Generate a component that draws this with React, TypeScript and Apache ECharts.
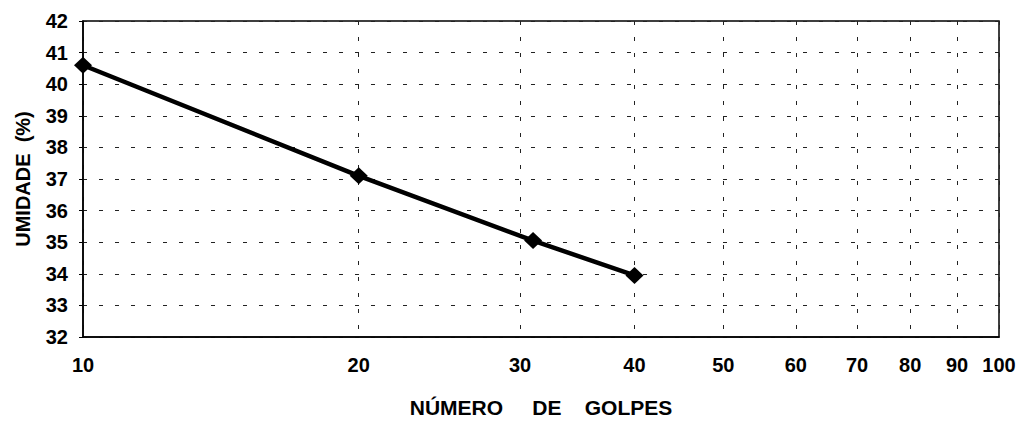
import React, { useEffect, useRef } from "react";
import * as echarts from "echarts";

const golpes = [10, 20, 31, 40];
const umidade = [40.6, 37.1, 35.05, 33.95];
const xTicks = [10, 20, 30, 40, 50, 60, 70, 80, 90, 100];
const yMin = 32;
const yMax = 42;
const xTitle = "NÚMERO     DE    GOLPES";
const yTitle = "UMIDADE  (%)";

export default function App() {
  const ref = useRef<HTMLDivElement>(null);
  useEffect(() => {
    if (!ref.current) return;
    const chart = echarts.init(ref.current, null, { renderer: "svg" });
    const font = "'Liberation Sans', Arial, sans-serif";
    const dash = { color: "#222", width: 1, type: [4, 12] as any };
    chart.setOption({
      animation: false,
      backgroundColor: "#fff",
      grid: {
        left: 83,
        right: 24,
        top: 21,
        bottom: 93,
        show: true,
        borderColor: "#000",
        borderWidth: 1.5,
        backgroundColor: "transparent",
      },
      xAxis: {
        type: "log",
        min: 10,
        max: 100,
        logBase: 10,
        name: xTitle,
        nameLocation: "middle",
        nameGap: 60,
        nameTextStyle: { fontFamily: font, fontSize: 21, fontWeight: "bold", color: "#000" },
        axisLine: { show: true, lineStyle: { color: "#000", width: 1.5 } },
        axisTick: { show: false, customValues: xTicks },
        axisLabel: {
          customValues: xTicks,
          margin: 18,
          fontFamily: font,
          fontSize: 20,
          fontWeight: "bold",
          color: "#000",
          formatter: (v: number) => String(Math.round(v)),
        },
        splitLine: { show: true, lineStyle: dash },
        minorTick: { show: false },
        minorSplitLine: { show: false },
      },
      yAxis: {
        type: "value",
        min: yMin,
        max: yMax,
        interval: 1,
        name: yTitle,
        nameLocation: "middle",
        nameGap: 50,
        nameTextStyle: { fontFamily: font, fontSize: 20, fontWeight: "bold", color: "#000" },
        axisLine: { show: true, lineStyle: { color: "#000", width: 1.5 } },
        axisTick: { show: true, inside: false, length: 4, lineStyle: { color: "#000" } },
        axisLabel: {
          margin: 15,
          fontFamily: font,
          fontSize: 20,
          fontWeight: "bold",
          color: "#000",
        },
        splitLine: { show: true, lineStyle: dash },
      },
      series: [
        {
          type: "line",
          data: golpes.map((g, i) => [g, umidade[i]]),
          symbol: "diamond",
          symbolSize: [18, 17],
          itemStyle: { color: "#000" },
          lineStyle: { color: "#000", width: 4.5 },
        },
      ],
    });
    return () => chart.dispose();
  }, []);
  return (
    <div
      ref={ref}
      style={{ position: "absolute", left: 0, top: 0, width: 1023, height: 430 }}
    />
  );
}
